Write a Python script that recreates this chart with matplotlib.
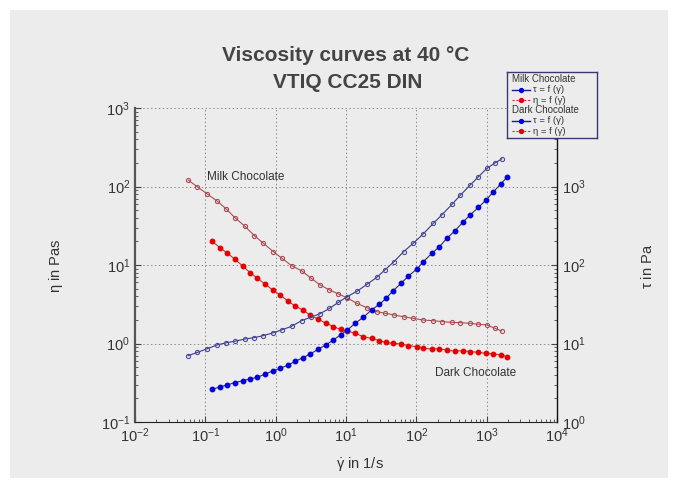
import matplotlib
matplotlib.use('Agg')
import matplotlib.pyplot as plt
from matplotlib.lines import Line2D
from matplotlib.patches import Rectangle

plt.rcParams['font.family'] = ['Liberation Sans', 'DejaVu Sans']
plt.rcParams['mathtext.fontset'] = 'custom'
plt.rcParams['mathtext.rm'] = 'Liberation Sans'
plt.rcParams['mathtext.it'] = 'Liberation Sans:italic'
plt.rcParams['mathtext.default'] = 'regular'

# Milk chocolate (open circles)
milk_rate = [0.057, 0.077, 0.107, 0.148, 0.197, 0.264, 0.367, 0.50, 0.668, 0.927,
             1.22, 1.69, 2.35, 3.19, 4.29, 5.81, 7.8, 10.3, 14.2, 19.8,
             27.4, 36, 48, 66, 91, 126, 175, 231, 320, 420,
             582, 764, 1006, 1320, 1640]
milk_eta = [121, 99, 80, 65, 52, 40, 31, 23.6, 18.9, 14.8,
            12.2, 9.8, 8.4, 6.8, 5.56, 4.81, 4.28, 3.83, 3.25, 2.86,
            2.54, 2.43, 2.31, 2.19, 2.09, 1.99, 1.95, 1.90, 1.86, 1.84,
            1.81, 1.76, 1.72, 1.56, 1.44]
milk_tau = [7.0, 7.7, 8.6, 9.6, 10.2, 10.7, 11.4, 11.9, 12.6, 13.7,
            14.9, 16.6, 19.6, 21.7, 24, 28, 33.4, 39.4, 46, 56.6,
            69.6, 87, 110, 148, 190, 250, 340, 436, 590, 770,
            1040, 1330, 1700, 2000, 2250]

# Dark chocolate (filled circles)
dark_rate = [0.123, 0.162, 0.201, 0.264, 0.340, 0.432, 0.549, 0.707, 0.91, 1.16,
             1.49, 1.89, 2.43, 3.08, 4.05, 5.21, 6.62, 8.38, 10.5, 13.5,
             17.7, 23.3, 29.9, 37.2, 46.3, 60.8, 77.3, 102, 126, 166,
             213, 272, 356, 458, 582, 764, 984, 1250, 1590, 1940]
dark_eta = [20.2, 16.6, 14.4, 11.8, 9.7, 8.0, 6.8, 5.7, 4.81, 4.15,
            3.48, 3.0, 2.67, 2.31, 2.03, 1.81, 1.64, 1.51, 1.44, 1.35,
            1.22, 1.16, 1.09, 1.03, 1.01, 0.986, 0.94, 0.91, 0.87, 0.85,
            0.86, 0.82, 0.80, 0.81, 0.79, 0.77, 0.75, 0.73, 0.72, 0.68]
dark_tau = [2.6, 2.8, 2.96, 3.17, 3.36, 3.53, 3.71, 4.08, 4.46, 4.83,
            5.3, 5.9, 6.6, 7.3, 8.5, 9.6, 11.1, 12.9, 14.9, 18.1,
            21.6, 27, 31.5, 37.7, 46.6, 58.5, 72.4, 89, 110, 141,
            171, 219, 274, 350, 434, 543, 673, 859, 1077, 1310]

bg = '#ececec'
txt = '#333333'

fig = plt.figure(figsize=(6.78, 4.88), dpi=100, facecolor='white')
fig.patches.append(Rectangle((10 / 678, 10 / 488), 658 / 678, 468 / 488,
                             transform=fig.transFigure, facecolor=bg,
                             edgecolor='none', zorder=-10))

ax = fig.add_axes([135 / 678, 1 - 422 / 488, 422 / 678, 314 / 488])
ax.set_facecolor('none')
ax.set_xscale('log')
ax.set_yscale('log')
ax.set_xlim(1e-2, 1e4)
ax.set_ylim(1e-1, 1e3)

ax2 = ax.twinx()
ax2.set_yscale('log')
ax2.set_ylim(1e0, 1e4)
ax2.set_yticks([1, 10, 100, 1000])

# eta curves
ax.plot(milk_rate, milk_eta, color='#a65050', lw=0.8, marker='o', ms=3.0,
        mfc='none', mec='#b04a55', mew=0.8, zorder=3)
ax.plot(dark_rate, dark_eta, color='#d03030', lw=0.8, marker='o', ms=3.2,
        mfc='#e60000', mec='#e60000', zorder=3)
# tau curves
ax2.plot(milk_rate, milk_tau, color='#3a3a80', lw=0.8, marker='o', ms=3.0,
         mfc='none', mec='#4a4aa0', mew=0.8, zorder=3)
ax2.plot(dark_rate, dark_tau, color='#303050', lw=0.8, marker='o', ms=3.2,
         mfc='#0000e0', mec='#0000e0', zorder=3)

ax.grid(True, which='major', linestyle=(0, (1.5, 2.5)), color='#8c8c8c', lw=0.7)
for a in (ax, ax2):
    a.spines['top'].set_visible(False)
    a.tick_params(which='both', direction='in', labelsize=10.5, colors='#444444',
                  labelcolor=txt)
    a.tick_params(which='major', length=4)
    a.tick_params(which='minor', length=2)
ax2.spines['left'].set_visible(False)
ax2.spines['bottom'].set_visible(False)
ax.spines['left'].set_color('#555555')
ax.spines['left'].set_linewidth(1.6)
ax.spines['bottom'].set_color('#222222')
ax.spines['right'].set_visible(False)
ax2.spines['right'].set_color('#111111')
ax2.spines['right'].set_linewidth(1.0)

ax.set_xlabel(r'$\dot{\gamma}$ in 1/s', fontsize=10.5, color=txt)
ax.xaxis.set_label_coords(0.533, -0.105)
ax.set_ylabel(r'$\eta$ in Pas', fontsize=10.5, color=txt)
ax.yaxis.set_label_coords(-0.166, 0.497)
ax2.set_ylabel(r'$\tau$ in Pa', fontsize=10.5, color=txt, rotation=90)
ax2.yaxis.set_label_coords(1.197, 0.497)

ax.text(0.106, 132, 'Milk Chocolate', fontsize=8.5, color=txt, va='center')
ax.text(185, 0.42, 'Dark Chocolate', fontsize=8.5, color=txt, va='center')

fig.text(0.51, 0.886, 'Viscosity curves at 40 °C', ha='center', va='center',
         fontsize=15, fontweight='bold', color='#444444')
fig.text(0.513, 0.830, 'VTIQ CC25 DIN', ha='center', va='center',
         fontsize=15, fontweight='bold', color='#444444')

# legend box
lax = fig.add_axes([507 / 678, 1 - 138 / 488, 90 / 678, 66 / 488])
lax.set_xlim(0, 1)
lax.set_ylim(0, 1)
lax.set_xticks([])
lax.set_yticks([])
lax.set_facecolor(bg)
for s in lax.spines.values():
    s.set_color('#3a3a70')
    s.set_linewidth(1.0)
rows = [(0.89, None, 'Milk Chocolate'),
        (0.73, 'tau', 'τ = f (γ\u0307)'),
        (0.57, 'eta', 'η = f (γ\u0307)'),
        (0.43, None, 'Dark Chocolate'),
        (0.26, 'tau', 'τ = f (γ\u0307)'),
        (0.10, 'eta', 'η = f (γ\u0307)')]
for y, kind, label in rows:
    if kind is None:
        lax.text(0.05, y, label, fontsize=7, color=txt, va='center')
        continue
    if kind == 'tau':
        ln = Line2D([0.06, 0.16, 0.26], [y, y, y], color='#1a1aa0', lw=1.0,
                    marker='o', markevery=[1], ms=2.8, mfc='#0000e0', mec='#0000e0')
    else:
        ln = Line2D([0.06, 0.16, 0.26], [y, y, y], color='#d03030', lw=0.8,
                    ls=(0, (2, 1.5)), marker='o', markevery=[1], ms=2.8,
                    mfc='#e60000', mec='#e60000')
    lax.add_line(ln)
    lax.text(0.29, y, label, fontsize=6.8, color=txt, va='center')

fig.savefig('out.png', dpi=100, facecolor='white')
